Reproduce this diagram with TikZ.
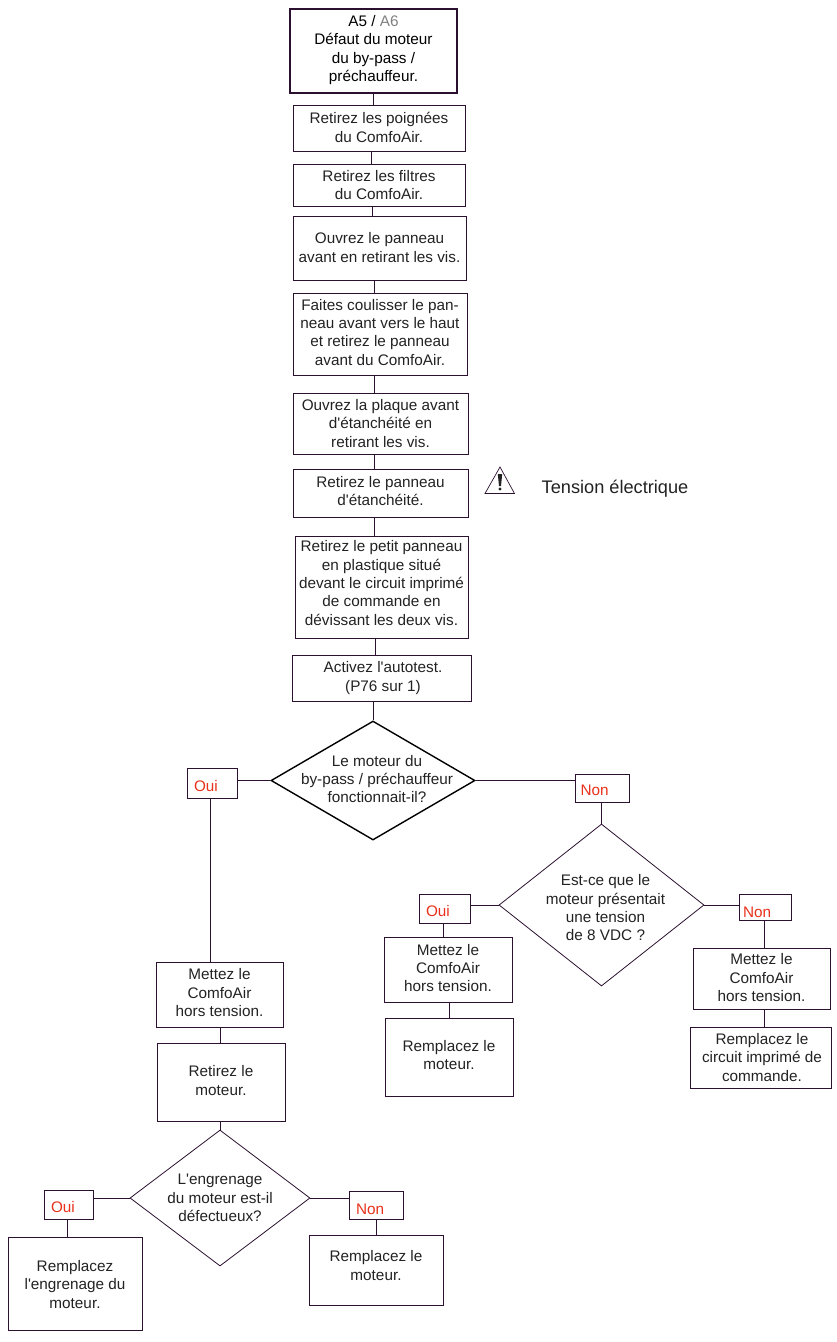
\documentclass[tikz,border=0pt]{standalone}
\usepackage{fontspec}
\newfontfamily\boxfont{Liberation Sans}
\usetikzlibrary{positioning,shapes.geometric}
\definecolor{line}{RGB}{43,16,48}
\definecolor{word}{RGB}{34,34,34}
\definecolor{answer}{RGB}{232,48,26}
\tikzset{
    stepbox/.style={draw=line,text=word,align=center,inner sep=0pt,font=\boxfont\fontsize{15.3}{18.3}\selectfont},
    decision/.style={stepbox,shape=diamond,aspect=1.7,inner xsep=-30pt,inner ysep=-12pt,line width=0.8pt},
    answerbox/.style={draw=line,text=answer,align=left,inner ysep=0pt,inner xsep=7pt,text depth=0pt,text height=16.5pt,font=\boxfont\fontsize{15.3}{18.3}\selectfont},
    link/.style={draw=line,line width=0.8pt}
}
\newcommand{\lift}[1]{\rule[-#1pt]{0pt}{#1pt}}
\newcommand{\nudge}{\hspace*{8pt}}
\begin{document}
\begin{tikzpicture}[x=1pt,y=-1pt]
    \useasboundingbox (0,0) rectangle (837,1342);

    \node[stepbox,text=black,line width=1.6pt,minimum width=167pt,minimum height=84pt] (start) at(373.5,51)
        {A5 / \textcolor{gray}{A6}\\Défaut du moteur\\du by-pass /\\préchauffeur.\lift{5.2}};
    \node[stepbox,minimum width=172pt,minimum height=46pt] (grips) at(379,128) {Retirez les poignées\\du ComfoAir.\lift{1}};
    \node[stepbox,minimum width=172pt,minimum height=42pt] (filters) at(379,185) {Retirez les filtres\\du ComfoAir.};
    \node[stepbox,minimum width=173pt,minimum height=64pt] (screws) at(379.5,248) {Ouvrez le panneau\\avant en retirant les vis.\lift{1}};
    \node[stepbox,minimum width=174pt,minimum height=82pt] (slide) at(380,334) {Faites coulisser le pan-\\neau avant vers le haut\\et retirez le panneau\\avant du ComfoAir.\lift{4}};
    \node[stepbox,minimum width=175pt,minimum height=61pt] (plate) at(380.5,423.5) {Ouvrez la plaque avant\\d'étanchéité en\\retirant les vis.};
    \node[stepbox,minimum width=175pt,minimum height=48pt] (seal) at(380.5,493) {Retirez le panneau\\d'étanchéité.\lift{4}};
    \node[stepbox,minimum width=173pt,minimum height=102pt] (plastic) at(381.5,587) {Retirez le petit panneau\\en plastique situé\\devant le circuit imprimé\\de commande en\\dévissant les deux vis.\lift{8}};
    \node[stepbox,minimum width=179pt,minimum height=46pt] (test) at(381.5,678) {\hspace*{3pt}Activez l'autotest.\\\hspace*{3pt}(P76 sur 1)};

    \draw[draw=line,line width=0.7pt] (485,493.5) -- (500,467) -- (514.5,493.5) -- cycle;
    \fill[word] (497.8,474) -- (502.2,474) -- (501,486) -- (499,486) -- cycle;
    \fill[word] (500,489) circle (1.6);
    \node[text=word,inner sep=0pt,font=\boxfont\fontsize{18.2}{22}\selectfont] (power) at(615,489) {Tension électrique};

    \node[decision,draw=black,line width=1.4pt,minimum width=204pt,minimum height=119pt] (runs) at(373,780.5) {\nudge Le moteur du\\\nudge by-pass / préchauffeur\\\nudge fonctionnait-il?\lift{3}};
    \node[answerbox,text width=36pt,minimum height=30pt] (yesa) at(212,783) {Oui};
    \node[answerbox,text height=14.5pt,inner xsep=5.5pt,text width=43pt,minimum height=28pt] (noa) at(602,788) {Non};

    \node[decision,minimum width=205pt,minimum height=162pt] (volt) at(601.5,905) {\rule{0pt}{17pt}\nudge Est-ce que le\\\nudge moteur présentait\\\nudge une tension\\\nudge de 8 VDC ?};
    \node[answerbox,text width=37pt,minimum height=29pt] (yesb) at(444.5,908.5) {Oui};
    \node[answerbox,text height=20.5pt,inner xsep=4pt,text width=44pt,minimum height=26pt] (nob) at(765,907) {Non};
    \node[stepbox,minimum width=128pt,minimum height=65pt] (offb) at(448,970) {Mettez le\\ComfoAir\\hors tension.\lift{4}};
    \node[stepbox,minimum width=128pt,minimum height=78pt] (motorb) at(449,1057) {Remplacez le\\moteur.\lift{4}};
    \node[stepbox,minimum width=137pt,minimum height=61pt] (offc) at(761.5,978.5) {Mettez le\\ComfoAir\\hors tension.\lift{2}};
    \node[stepbox,minimum width=141pt,minimum height=61pt] (board) at(760.5,1057.5) {\hspace*{3pt}Remplacez le\\\hspace*{3pt}circuit imprimé de\\\hspace*{3pt}commande.};

    \node[stepbox,minimum width=127pt,minimum height=65pt] (offa) at(219.5,994.5) {Mettez le\\ComfoAir\\hors tension.\lift{4}};
    \node[stepbox,minimum width=128pt,minimum height=78pt] (remove) at(221,1082) {Retirez le\\moteur.\lift{3}};
    \node[decision,minimum width=180pt,minimum height=136pt] (gear) at(220,1198) {L'engrenage\\du moteur est-il\\défectueux?};
    \node[answerbox,text width=35pt,minimum height=29pt] (yesc) at(68.5,1204.5) {Oui};
    \node[answerbox,text height=18.5pt,text width=40pt,minimum height=28pt] (noc) at(376,1205) {Non};
    \node[stepbox,minimum width=134pt,minimum height=93pt] (gearnew) at(75,1283.5) {\rule{0pt}{13pt}Remplacez\\l'engrenage du\\moteur.};
    \node[stepbox,minimum width=134pt,minimum height=70pt] (motora) at(376,1270) {Remplacez le\\moteur.\lift{9}};

    % vertical links, each with its own x
    \foreach \a/\b/\x in {start/grips/373,grips/filters/371,filters/screws/372,screws/slide/374,
        slide/plate/374,plate/seal/374,seal/plastic/374,plastic/test/375,test/runs/373,
        yesa/offa/210,noa/volt/601,yesb/offb/443,offb/motorb/449,nob/offc/764,offc/board/764,
        offa/remove/220,remove/gear/220,yesc/gearnew/67,noc/motora/376}
        \draw[link] (\a.south -| \x,0) -- (\b.north -| \x,0);

    % side links to the answers
    \foreach \a/\b in {runs.west/yesa.east,runs.east/noa.west,volt.west/yesb.east,volt.east/nob.west,
        gear.west/yesc.east,gear.east/noc.west}
        \draw[link] (\a) -- (\a -| \b);

\end{tikzpicture}
\end{document}
